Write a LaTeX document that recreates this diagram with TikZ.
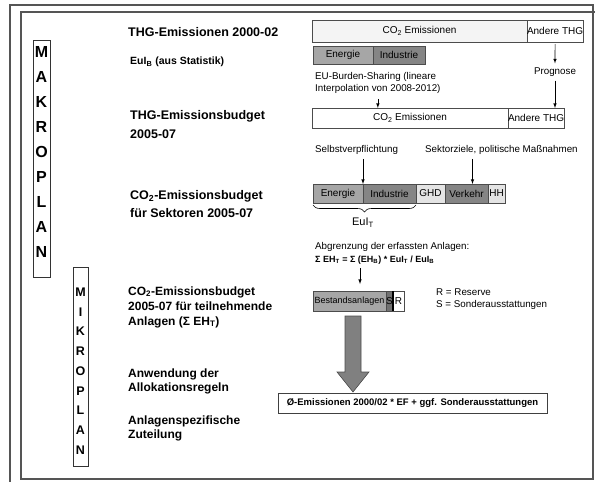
\documentclass[tikz,border=0pt]{standalone}
\usepackage{fontspec}
\setmainfont{Liberation Sans}
\usetikzlibrary{positioning,decorations.pathreplacing}
\definecolor{barlight}{HTML}{F4F4F4}
\definecolor{barmid}{HTML}{A6A6A6}
\definecolor{bardark}{HTML}{858585}
\definecolor{barpale}{HTML}{E4E4E4}
\definecolor{framegray}{HTML}{555555}
\begin{document}
\begin{tikzpicture}[x=1pt, y=-1pt,
			% Define styles for nodes
			seg/.style={draw=black!70, line width=0.5pt, inner sep=0pt, outer sep=0pt, minimum height=20pt, font=\fontsize{10}{11}\selectfont},
			title/.style={anchor=west, align=left, inner sep=0pt, font=\bfseries\fontsize{12.5}{19}\selectfont},
			note/.style={anchor=west, align=left, inner sep=0pt, font=\fontsize{9.8}{12}\selectfont},
			letters/.style={align=center, inner sep=0pt, font=\bfseries\fontsize{16}{25}\selectfont},
			letterbox/.style={draw=black!80, line width=0.8pt, inner sep=0pt},
			frame/.style={draw=framegray, line width=1.3pt},
			arrow/.style={draw, -latex, line width=0.6pt}
		]
		\useasboundingbox (0,0) rectangle (595,482);

		% Frames
		\draw[frame] (10,482) -- (10,5) -- (593,5) -- (593,479) -- (21,479) -- (21,12) -- (600,12);

		% Side labels
		\node[letterbox, minimum width=17, minimum height=237] (makro) at (41.5,158.5) {};
		\node[letters] (makrotext) at (41.5,152) {M\\A\\K\\R\\O\\P\\L\\A\\N};
		\node[letterbox, minimum width=15, minimum height=199] (mikro) at (80.5,366.5) {};
		\node[letters, font=\bfseries\fontsize{12.5}{19.75}\selectfont] (mikrotext) at (80.5,371) {M\\I\\K\\R\\O\\P\\L\\A\\N};

		% Steps on the left
		\node[title] (t1) at (128,32) {THG-Emissionen 2000-02};
		\node[title, font=\bfseries\fontsize{10.5}{12}\selectfont] (t2) at (130,62) {EuI\textsubscript{B} (aus Statistik)};
		\node[title] (t3) at (130,125) {THG-Emissionsbudget\\2005-07};
		\node[title, font=\bfseries\fontsize{12.5}{18}\selectfont] (t4) at (130,204) {CO\textsubscript{2}-Emissionsbudget\\für Sektoren 2005-07};
		\node[title, font=\bfseries\fontsize{12}{15}\selectfont] (t5) at (128,307) {CO\textsubscript{2}-Emissionsbudget\\2005-07 für teilnehmende\\Anlagen (Σ EH\textsubscript{T})};
		\node[title, font=\bfseries\fontsize{12}{13.5}\selectfont] (t6) at (128,381.5) {Anwendung der\\Allokationsregeln};
		\node[title, font=\bfseries\fontsize{12}{13.5}\selectfont] (t7) at (128,428.5) {Anlagenspezifische\\Zuteilung};

		% Emissions 2000-02
		\node[seg, fill=barlight, minimum width=215, minimum height=22, anchor=north west] (co2a) at (312,20) {CO\textsubscript{2} Emissionen};
		\node[seg, fill=white, minimum width=56, minimum height=22, right=0pt of co2a] (thga) {Andere THG};
		\node[seg, fill=barmid, minimum width=60, minimum height=18, anchor=north west] (en1) at (313,46) {Energie};
		\node[seg, fill=bardark, minimum width=52, minimum height=18, right=0pt of en1] (ind1) {Industrie};
		\node[note] (burden) at (315,83) {EU-Burden-Sharing (lineare\\Interpolation von 2008-2012)};
		\node[note, anchor=center] (progn) at (555,72) {Prognose};

		% Budget 2005-07
		\node[seg, fill=white, minimum width=196, anchor=north west] (co2b) at (312,108) {CO\textsubscript{2} Emissionen};
		\node[seg, fill=white, minimum width=54, right=0pt of co2b] (thgb) {Andere THG};
		\draw[arrow] ([yshift=-2pt]thga.south) -- ([yshift=4pt]progn.north);
		\draw[arrow] ([yshift=-4pt]progn.south) -- (progn.south |- thgb.north);
		\draw[arrow] ([yshift=-5pt]burden.south) -- (burden.south |- co2b.north);

		% Sectors
		\node[note] (selbst) at (315,150) {Selbstverpflichtung};
		\node[note] (sektor) at (425,150) {Sektorziele, politische Maßnahmen};
		\node[seg, fill=barmid, minimum width=50, minimum height=19, anchor=north west] (en2) at (313,184) {Energie};
		\node[seg, fill=bardark, minimum width=53, minimum height=19, right=0pt of en2] (ind2) {Industrie};
		\node[seg, fill=barpale, minimum width=29, minimum height=19, right=0pt of ind2] (ghd) {GHD};
		\node[seg, fill=bardark, minimum width=43, minimum height=19, right=0pt of ghd] (verk) {Verkehr};
		\node[seg, fill=barpale, minimum width=17, minimum height=19, right=0pt of verk] (hh) {HH};
		\coordinate (verkin) at ([xshift=6pt]verk.north);
		\draw[arrow, shorten <=4pt] (selbst.south -| en2.north east) -- (en2.north east);
		\draw[arrow, shorten <=4pt] (sektor.south -| verkin) -- (verkin);
		\draw[decorate, decoration={brace, mirror, amplitude=7pt}, line width=0.6pt] ([yshift=-2pt]en2.south west) -- ([yshift=-2pt]ind2.south east);
		\node[note, anchor=center, font=\fontsize{11}{12}\selectfont] (euit) at (363,223) {EuI\textsubscript{T}};

		% Installations
		\node[note] (abgr) at (315,247) {Abgrenzung der erfassten Anlagen:};
		\node[note, font=\bfseries\fontsize{9}{11}\selectfont] (rule) at (315,260) {Σ EH\textsubscript{T} = Σ (EH\textsubscript{B}) * EuI\textsubscript{T} / EuI\textsubscript{B}};
		\node[seg, fill=barmid, minimum width=73, anchor=north west, font=\fontsize{9}{11}\selectfont] (bestand) at (313,291) {Bestandsanlagen};
		\node[seg, fill=bardark!85!black, minimum width=7, right=0pt of bestand] (sond) {S};
		\node[seg, fill=white, minimum width=11, right=0pt of sond] (res) {R};
		\draw[line width=1.5pt] (res.north west) -- (res.south west);
		\node[note, font=\fontsize{9.8}{11.5}\selectfont] (legend) at (436,299) {R = Reserve\\S = Sonderausstattungen};
		\coordinate (bestin) at (360,291);
		\draw[arrow, shorten <=4pt, shorten >=7pt] (rule.south -| bestin) -- (bestin);

		% Allocation
		\node[draw=black!75, line width=0.7pt, fill=white, minimum width=269, minimum height=20, inner sep=0pt, font=\bfseries\fontsize{9.5}{11}\selectfont] (alloc) at (412.5,403) {Ø-Emissionen 2000/02 * EF + ggf. Sonderausstattungen};
		\draw[draw=black!70, fill=black!50, line width=0.6pt] (345,316) -- (361,316) -- (361,372) -- (369,372) -- (353,392) -- (337,372) -- (345,372) -- cycle;
	\end{tikzpicture}
\end{document}
